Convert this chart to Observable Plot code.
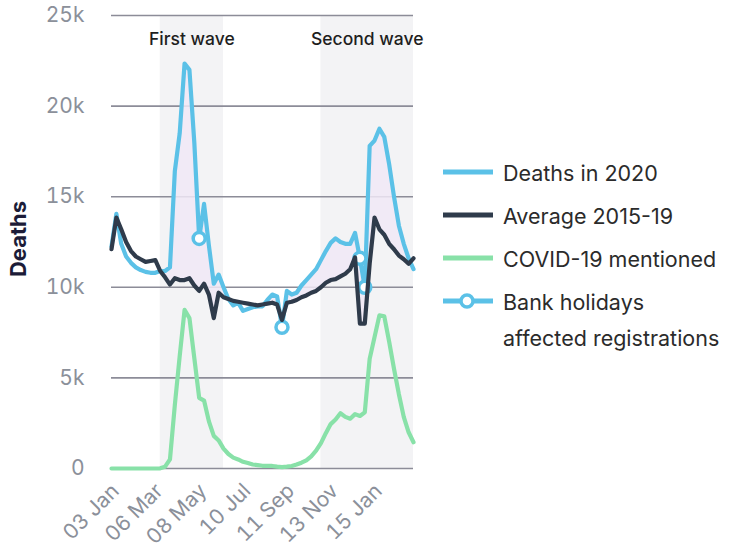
<!DOCTYPE html>
<html>
<head>
<meta charset="utf-8">
<script src="https://cdn.jsdelivr.net/npm/d3@7"></script>
<script src="https://cdn.jsdelivr.net/npm/@observablehq/plot@0.6"></script>
<style>
  body { margin: 0; background: #fff; font-family: Inter, "Noto Sans", sans-serif; }
  #wrap { position: relative; width: 730px; height: 552px; overflow: hidden; }
  #chart { position: absolute; left: 0; top: 0; }
  #legend { position: absolute; left: 443px; top: 149px; color: #2b2b2b; font-size: 21.5px; }
  .row { position: relative; height: 43px; }
  .row svg { position: absolute; left: 0; top: 15px; }
  .row span { position: absolute; left: 60px; top: 6px; line-height: 36px; white-space: nowrap; }
</style>
</head>
<body>
<div id="wrap"><div id="chart"></div><div id="legend"></div></div>
<script>
// Weekly deaths registered, week ending date
const weeks = [
  "2020-01-03","2020-01-10","2020-01-17","2020-01-24","2020-01-31","2020-02-07","2020-02-14",
  "2020-02-21","2020-02-28","2020-03-06","2020-03-13","2020-03-20","2020-03-27","2020-04-03",
  "2020-04-10","2020-04-17","2020-04-24","2020-05-01","2020-05-08","2020-05-15","2020-05-22",
  "2020-05-29","2020-06-05","2020-06-12","2020-06-19","2020-06-26","2020-07-03","2020-07-10",
  "2020-07-17","2020-07-24","2020-07-31","2020-08-07","2020-08-14","2020-08-21","2020-08-28",
  "2020-09-04","2020-09-11","2020-09-18","2020-09-25","2020-10-02","2020-10-09","2020-10-16",
  "2020-10-23","2020-10-30","2020-11-06","2020-11-13","2020-11-20","2020-11-27","2020-12-04",
  "2020-12-11","2020-12-18","2020-12-25","2021-01-01","2021-01-08","2021-01-15","2021-01-22",
  "2021-01-29","2021-02-05","2021-02-12","2021-02-19","2021-02-26","2021-03-05","2021-03-12"
];
const deaths2020 = [
  12250,14050,12400,11700,11350,11100,10950,10850,10800,10800,10900,10900,11100,16400,
  18500,22350,22000,18000,12700,14600,12300,10200,10700,10000,9350,9000,9150,8700,
  8800,8900,8950,8950,9300,9600,9500,7800,9800,9600,9700,10100,10400,10700,
  11000,11500,12000,12450,12700,12500,12400,12400,13000,11600,10000,17800,18100,18750,
  18300,16800,15000,13400,12400,11600,11000
];
const average2015_19 = [
  12100,13850,13200,12500,12000,11700,11550,11400,11450,11500,10900,10550,10150,10500,
  10400,10400,10500,10100,9800,10200,9600,8300,9700,9450,9350,9250,9200,9150,
  9100,9050,9000,9050,9100,9150,9050,8200,9150,9200,9300,9450,9550,9700,
  9800,10000,10250,10400,10450,10600,10750,11000,11650,8000,8000,11300,13850,13200,
  12900,12400,12100,11750,11550,11300,11600
];
const covidMentioned = [
  0,0,0,0,0,0,0,0,0,0,10,100,500,3500,
  6200,8750,8300,6100,3900,3750,2600,1800,1550,1100,800,600,500,370,
  300,220,190,150,140,140,100,80,100,140,220,320,450,670,
  980,1400,1950,2450,2700,3050,2850,2750,3000,2900,3100,6050,7250,8450,
  8400,7000,5500,4100,2850,2000,1450
];
const bankHolidayWeeks = ["2020-05-08","2020-09-04","2020-12-25","2021-01-01"];
const waveLabels = ["First wave", "Second wave"];
const waveStarts = ["2020-03-13", "2020-10-30"];
const waveEnds = ["2020-06-12", "2021-03-12"];
const xTickDates = ["2020-01-03","2020-03-06","2020-05-08","2020-07-10","2020-09-11","2020-11-13","2021-01-15"];
const yTicks = [0, 5000, 10000, 15000, 20000, 25000];

const BLUE = "#5bc1e7", DARK = "#2f3b4b", GREEN = "#88e1a8";

const parse = d3.utcParse("%Y-%m-%d");
const rows = weeks.map((w, i) => ({
  date: parse(w),
  deaths: deaths2020[i],
  avg: average2015_19[i],
  covid: covidMentioned[i],
  holiday: bankHolidayWeeks.includes(w)
}));
const waves = waveLabels.map((label, i) => {
  const start = parse(waveStarts[i]), end = parse(waveEnds[i]);
  return {label, start, end, mid: new Date((+start + +end) / 2)};
});

const chart = Plot.plot({
  width: 430,
  height: 552,
  marginLeft: 111,
  marginRight: 17,
  marginTop: 15,
  marginBottom: 84,
  style: {fontFamily: "Inter, 'Noto Sans', sans-serif", fontSize: "20px", color: "#8b909a", background: "transparent"},
  x: {type: "utc", domain: [rows[0].date, rows[rows.length - 1].date]},
  y: {domain: [0, 25000]},
  marks: [
    Plot.rect(waves, {x1: "start", x2: "end", fill: "#f3f3f5"}),
    Plot.ruleY(yTicks, {stroke: "#8c8c98", strokeWidth: 1.6}),
    Plot.areaY(rows, {x: "date", y1: "avg", y2: d => Math.max(d.deaths, d.avg), fill: "#f0e8f6", fillOpacity: 0.85}),
    Plot.lineY(rows, {x: "date", y: "covid", stroke: GREEN, strokeWidth: 4.2, strokeLinejoin: "round"}),
    Plot.lineY(rows, {x: "date", y: "deaths", stroke: BLUE, strokeWidth: 4.2, strokeLinejoin: "round"}),
    Plot.dot(rows.filter(d => d.holiday), {x: "date", y: "deaths", r: 6, fill: "white", stroke: BLUE, strokeWidth: 3.5}),
    Plot.lineY(rows, {x: "date", y: "avg", stroke: DARK, strokeWidth: 4.2, strokeLinejoin: "round"}),
    Plot.text(waves, {x: "mid", text: "label", frameAnchor: "top", dy: 17, fontSize: 17.5, fontWeight: 500, fill: "#1e1e1e"}),
    Plot.text(["Deaths"], {frameAnchor: "left", textAnchor: "middle", rotate: -90, dx: -93, dy: -3, fontSize: 22, fontWeight: 700, fill: "#1c1c38"}),
    Plot.axisY({ticks: yTicks, tickFormat: d => d === 0 ? "0" : d / 1000 + "k", tickSize: 0, tickPadding: 27, label: null, fontSize: 21}),
    Plot.axisX({ticks: xTickDates.map(parse), tickFormat: d3.utcFormat("%d %b"), tickRotate: -45, tickSize: 0, tickPadding: 19, dx: 4, label: null, fontSize: 21})
  ]
});
document.getElementById("chart").append(chart);

// Legend
const legendItems = [
  {label: "Deaths in 2020", color: BLUE, marker: false},
  {label: "Average 2015-19", color: DARK, marker: false},
  {label: "COVID-19 mentioned", color: GREEN, marker: false},
  {label: "Bank holidays<br>affected registrations", color: BLUE, marker: true}
];
const legend = document.getElementById("legend");
for (const item of legendItems) {
  const row = document.createElement("div");
  row.className = "row";
  row.innerHTML =
    `<svg width="54" height="16"><line x1="0" x2="50" y1="8" y2="8" stroke="${item.color}" stroke-width="5"/>` +
    (item.marker ? `<circle cx="24" cy="8" r="6" fill="white" stroke="${item.color}" stroke-width="3.5"/>` : "") +
    `</svg><span>${item.label}</span>`;
  legend.append(row);
}
</script>
</body>
</html>
